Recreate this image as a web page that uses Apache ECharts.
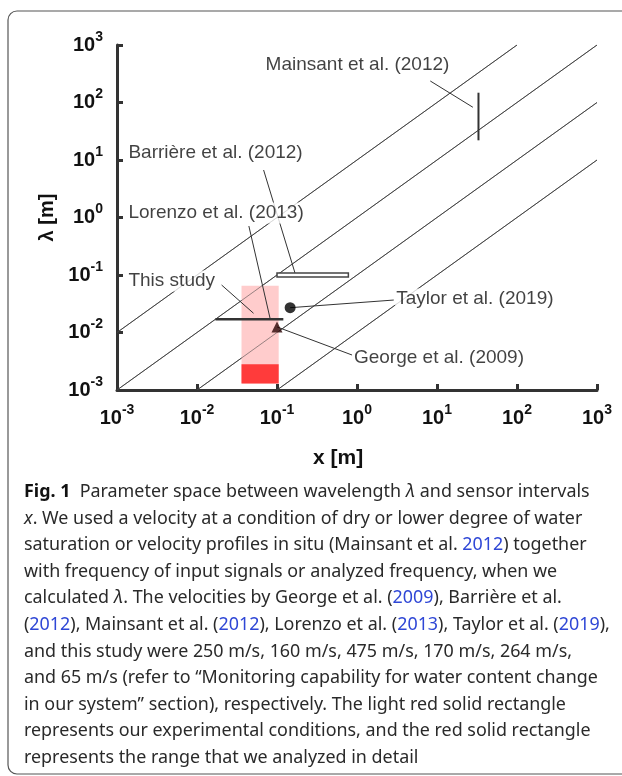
<!DOCTYPE html>
<html>
<head>
<meta charset="utf-8">
<script src="https://cdn.jsdelivr.net/npm/echarts@6/dist/echarts.min.js"></script>
<style>
  html, body { margin: 0; padding: 0; background: #fff; }
  #chart { width: 622px; height: 776px; }
</style>
</head>
<body>
<div id="chart"></div>
<script>
// Decade exponents shown on both logarithmic axes
const tickExponents = [-3, -2, -1, 0, 1, 2, 3];

// Constant-ratio reference lines (lambda / x), each given by its two end points [x, lambda]
const ratioLines = [
  [[0.001, 0.01], [100, 1000]],
  [[0.001, 0.001], [1000, 1000]],
  [[0.01, 0.001], [1000, 100]],
  [[0.1, 0.001], [1000, 10]]
];

// Boxes: [xMin, lambdaMin, xMax, lambdaMax]
const experimentBox = [0.036, 0.0013, 0.105, 0.065];
const analysedBox = [0.036, 0.0013, 0.105, 0.0028];
const barriereBar = [0.1, 0.092, 0.78, 0.108];

// Segments: [[x, lambda], [x, lambda]]
const lorenzoSegment = [[0.017, 0.017], [0.12, 0.017]];
const mainsantSegment = [[33, 22], [33, 148]];

// Single points [x, lambda]
const taylorPoint = [0.146, 0.027];
const georgePoint = [0.1, 0.0125];

// Study names and where their text starts [x, lambda]
const labelNames = ['Mainsant et al. (2012)', 'Barrière et al. (2012)', 'Lorenzo et al. (2013)', 'This study', 'Taylor et al. (2019)', 'George et al. (2009)'];
const labelAnchors = [[0.07, 449], [0.00135, 13.2], [0.00135, 1.2], [0.00135, 0.0787], [3.0, 0.0383], [0.89, 0.0036]];

// Leader lines from names to marks
const leaderLines = [
  [[8.24, 236.6], [28.1, 82.6]],
  [[0.068, 6.7], [0.168, 0.108]],
  [[0.0445, 0.711], [0.0824, 0.017]],
  [[0.0203, 0.067], [0.0509, 0.0216]],
  [[0.146, 0.027], [2.88, 0.0367]],
  [[0.1, 0.0125], [0.867, 0.00406]]
];

// Caption lines (rich-text markup)
const captionLines = [
  '{fig|Fig. 1}  Parameter space between wavelength {it|λ} and sensor intervals',
  '{it|x}. We used a velocity at a condition of dry or lower degree of water',
  'saturation or velocity profiles in situ (Mainsant et al. {ln|2012}) together',
  'with frequency of input signals or analyzed frequency, when we',
  'calculated {it|λ}. The velocities by George et al. ({ln|2009}), Barrière et al.',
  '({ln|2012}), Mainsant et al. ({ln|2012}), Lorenzo et al. ({ln|2013}), Taylor et al. ({ln|2019}),',
  'and this study were 250 m/s, 160 m/s, 475 m/s, 170 m/s, 264 m/s,',
  'and 65 m/s (refer to “Monitoring capability for water content change',
  'in our system” section), respectively. The light red solid rectangle',
  'represents our experimental conditions, and the red solid rectangle',
  'represents the range that we analyzed in detail'
];

const AXIS_COLOR = '#333';
const LINE_COLOR = '#444';
const SANS = '"Liberation Sans", Arial, sans-serif';
const CAPTION_FONT = '"Noto Sans", sans-serif';
const CAPTION_SIZE = 17.9;

function powerLabel(value) {
  const e = Math.round(Math.log10(value));
  if (tickExponents.indexOf(e) < 0) return '';
  return '{b|10}{s|' + e + '}';
}
const powerRich = {
  b: { fontFamily: SANS, fontWeight: 'bold', fontSize: 20, color: '#111', lineHeight: 22 },
  s: { fontFamily: SANS, fontWeight: 'bold', fontSize: 14, color: '#111', padding: [0, 0, 16, 0], lineHeight: 14 }
};

function boxRenderer(fill, stroke) {
  return function (params, api) {
    const p0 = api.coord([api.value(0), api.value(1)]);
    const p1 = api.coord([api.value(2), api.value(3)]);
    return {
      type: 'rect',
      shape: {
        x: Math.min(p0[0], p1[0]), y: Math.min(p0[1], p1[1]),
        width: Math.abs(p1[0] - p0[0]), height: Math.abs(p1[1] - p0[1])
      },
      style: { fill: fill, stroke: stroke, lineWidth: stroke ? 1.5 : 0 }
    };
  };
}

const series = [];

ratioLines.forEach(function (pts) {
  series.push({
    type: 'line', data: pts, symbol: 'none', silent: true, z: 2,
    lineStyle: { color: LINE_COLOR, width: 1 }
  });
});

series.push({
  type: 'custom', renderItem: boxRenderer('#ffcccc', null), data: [experimentBox],
  encode: { x: [0, 2], y: [1, 3] }, z: 3
});
series.push({
  type: 'custom', renderItem: boxRenderer('#ff3b3b', null), data: [analysedBox],
  encode: { x: [0, 2], y: [1, 3] }, z: 3
});
// ratio lines crossing the light box stay visible on top of it
ratioLines.forEach(function (pts) {
  series.push({
    type: 'line', data: pts, symbol: 'none', silent: true, z: 4,
    lineStyle: { color: LINE_COLOR, width: 1, opacity: 0.55 }
  });
});
series.push({
  type: 'custom', renderItem: boxRenderer('#ffffff', '#444'), data: [barriereBar],
  encode: { x: [0, 2], y: [1, 3] }, z: 6
});

series.push({
  type: 'lines', coordinateSystem: 'cartesian2d', z: 5, silent: true,
  lineStyle: { color: '#333', width: 1, opacity: 1 },
  data: leaderLines.map(function (c) { return { coords: c }; })
});

series.push({
  type: 'line', data: lorenzoSegment, symbol: 'none', z: 7,
  lineStyle: { color: '#333', width: 2.5 }
});
series.push({
  type: 'line', data: mainsantSegment, symbol: 'none', z: 7,
  lineStyle: { color: '#333', width: 2 }
});
series.push({
  type: 'scatter', data: [taylorPoint], symbol: 'circle', symbolSize: 11, z: 8,
  itemStyle: { color: '#000' }
});
series.push({
  type: 'scatter', data: [georgePoint], symbol: 'triangle', symbolSize: 11, z: 8,
  itemStyle: { color: '#2a0505' }
});

series.push({
  type: 'scatter', symbolSize: 0, z: 10, silent: true,
  data: labelAnchors.map(function (p, i) {
    return { value: p, name: labelNames[i] };
  }),
  label: {
    show: true, position: 'right', distance: 0, formatter: '{b}',
    fontFamily: SANS, fontSize: 19, color: '#111',
    backgroundColor: '#fff', padding: [1, 1, 1, 1]
  }
});

// page frame, open on the right-hand side
const frameStyle = { fill: 'none', stroke: '#555', lineWidth: 1.2 };
const graphics = [
  { type: 'polyline', z: 0, shape: { points: [[17, 11], [640, 11]] }, style: frameStyle },
  { type: 'polyline', z: 0, shape: { points: [[8, 20], [8, 765]] }, style: frameStyle },
  { type: 'polyline', z: 0, shape: { points: [[17, 774], [640, 774]] }, style: frameStyle },
  { type: 'arc', z: 0, shape: { cx: 17, cy: 20, r: 9, startAngle: Math.PI, endAngle: Math.PI * 1.5 }, style: frameStyle },
  { type: 'arc', z: 0, shape: { cx: 17, cy: 765, r: 9, startAngle: Math.PI * 0.5, endAngle: Math.PI }, style: frameStyle },
  {
    type: 'text', x: 313, y: 448,
    style: { text: 'x [m]', fontFamily: SANS, fontWeight: 'bold', fontSize: 21, fill: '#111' }
  }
];
captionLines.forEach(function (line, i) {
  graphics.push({
    type: 'text', x: 24, y: 483 + i * 26.6,
    style: {
      text: line, fontFamily: CAPTION_FONT, fontSize: CAPTION_SIZE, fill: '#2a2a2a',
      rich: {
        fig: { fontFamily: CAPTION_FONT, fontWeight: 'bold', fontSize: CAPTION_SIZE, fill: '#111' },
        it: { fontFamily: CAPTION_FONT, fontStyle: 'italic', fontSize: CAPTION_SIZE, fill: '#2a2a2a' },
        ln: { fontFamily: CAPTION_FONT, fontSize: CAPTION_SIZE, fill: '#2f47d6' }
      }
    }
  });
});

const chart = echarts.init(document.getElementById('chart'), null, { renderer: 'canvas' });
chart.setOption({
  animation: false,
  backgroundColor: '#fff',
  grid: { left: 117, right: 25, top: 45, bottom: 386, containLabel: false },
  xAxis: {
    type: 'log', logBase: 10, min: 1e-3, max: 1e3, interval: 1,
    axisLine: { lineStyle: { color: AXIS_COLOR, width: 3 } },
    axisTick: { inside: true, length: 6, lineStyle: { color: AXIS_COLOR, width: 3 } },
    axisLabel: { formatter: powerLabel, rich: powerRich, margin: 17 },
    splitLine: { show: false }, minorTick: { show: false }
  },
  yAxis: {
    type: 'log', logBase: 10, min: 1e-3, max: 1e3, interval: 1,
    name: 'λ [m]', nameLocation: 'middle', nameGap: 45, nameRotate: 90,
    nameTextStyle: { fontFamily: SANS, fontWeight: 'bold', fontSize: 20, color: '#111' },
    axisLine: { lineStyle: { color: AXIS_COLOR, width: 3 } },
    axisTick: { inside: true, length: 6, lineStyle: { color: AXIS_COLOR, width: 3 } },
    axisLabel: { formatter: powerLabel, rich: powerRich, margin: 14 },
    splitLine: { show: false }, minorTick: { show: false }
  },
  series: series,
  graphic: graphics
});
</script>
</body>
</html>
